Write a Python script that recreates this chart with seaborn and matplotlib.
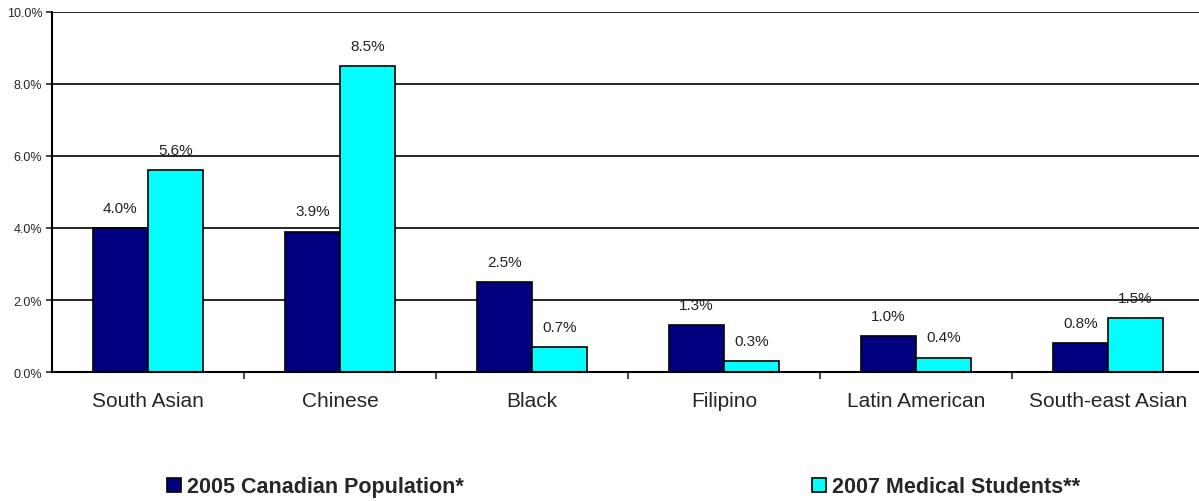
import matplotlib
matplotlib.use("Agg")
import matplotlib.pyplot as plt
import seaborn as sns
import pandas as pd
from matplotlib.ticker import FixedLocator, NullFormatter
from matplotlib.patches import Patch

categories = ["South Asian", "Chinese", "Black", "Filipino", "Latin American", "South-east Asian"]
series_names = ["2005 Canadian Population*", "2007 Medical Students**"]
pop_2005 = [4.0, 3.9, 2.5, 1.3, 1.0, 0.8]
med_2007 = [5.6, 8.5, 0.7, 0.3, 0.4, 1.5]
y_ticks = [0, 2, 4, 6, 8, 10]
colors = ["#000080", "#00FFFF"]

df = pd.DataFrame({
    "category": categories * 2,
    "series": [series_names[0]] * len(categories) + [series_names[1]] * len(categories),
    "value": pop_2005 + med_2007,
})

sns.set_style("white")
plt.rcParams["font.family"] = ["Liberation Sans", "DejaVu Sans"]

fig = plt.figure(figsize=(11.99, 5.02), dpi=100)
ax = fig.add_axes([52 / 1199, 1 - 373 / 502, (1204 - 52) / 1199, (373 - 13) / 502])

sns.barplot(data=df, x="category", y="value", hue="series", palette=colors,
            width=0.575, edgecolor="black", linewidth=1.2, ax=ax, legend=False,
            saturation=1)

for container in ax.containers:
    for bar in container:
        h = bar.get_height()
        ax.annotate(f"{h:.1f}%", (bar.get_x() + bar.get_width() / 2, h),
                    xytext=(0, 14.5), textcoords="offset points",
                    ha="center", va="center", fontsize=11, color="#222222")

ax.set_ylim(0, 10)
ax.set_xlim(-0.5, len(categories) - 0.5)
ax.set_yticks(y_ticks)
ax.set_yticklabels([f"{t:.1f}%" for t in y_ticks], fontsize=9)
for t in y_ticks[1:]:
    ax.axhline(t, color="black", linewidth=1.2, zorder=0)

ax.set_xticks(range(len(categories)))
ax.set_xticklabels(categories, fontsize=15)
ax.tick_params(axis="x", which="major", length=0, pad=14)
ax.xaxis.set_minor_locator(FixedLocator([i + 0.5 for i in range(len(categories) - 1)]))
ax.xaxis.set_minor_formatter(NullFormatter())
ax.tick_params(axis="x", which="minor", length=5, width=1.2, direction="out", bottom=True)
ax.tick_params(axis="y", length=4, width=1.2, direction="out", left=True, pad=3)
ax.set_xlabel("")
ax.set_ylabel("")

for side in ["top", "right"]:
    ax.spines[side].set_visible(False)
for side in ["left", "bottom"]:
    ax.spines[side].set_color("black")
    ax.spines[side].set_linewidth(1.5)

legend_font = {"weight": "bold", "size": 15.5}
legend_x = [167 / 1199, 812 / 1199]
for i in range(2):
    h = Patch(facecolor=colors[i], edgecolor="black", linewidth=1.2)
    fig.legend([h], [series_names[i]], loc="center left",
               bbox_to_anchor=(legend_x[i], 1 - 488 / 502),
               frameon=False, prop=legend_font, handlelength=0.65, handleheight=0.65,
               handletextpad=0.28, borderaxespad=0, borderpad=0)

fig.savefig("out.png", dpi=100)
